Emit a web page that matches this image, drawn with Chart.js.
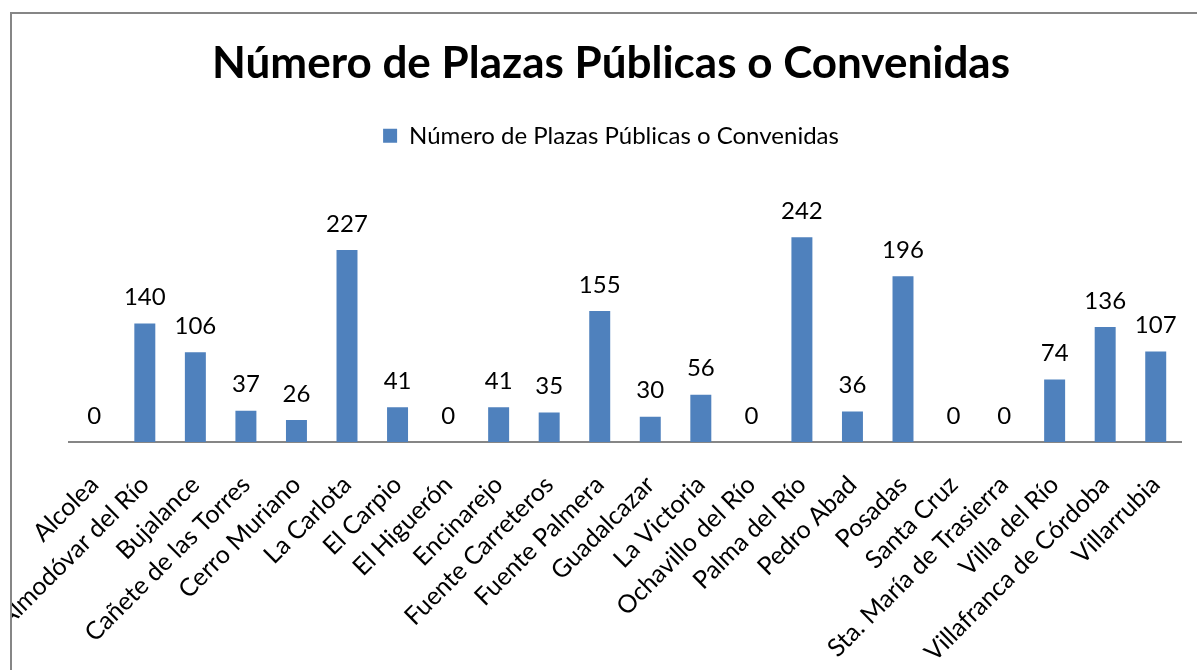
<!DOCTYPE html>
<html>
<head>
<meta charset="utf-8">
<script src="https://cdn.jsdelivr.net/npm/chart.js@4.4.1/dist/chart.umd.min.js"></script>
<style>
  html, body { margin: 0; padding: 0; background: #fff; overflow: hidden; }
  #frame {
    position: absolute; left: 10px; top: 12px; width: 1300px; height: 700px;
    border-left: 2px solid #868686; border-top: 2px solid #868686;
    overflow: hidden;
  }
  #frame canvas { position: absolute; left: -12px; top: -14px; }
</style>
</head>
<body>
<div id="frame"><canvas id="c" width="1222" height="670"></canvas></div>
<script>
// Número de plazas públicas o convenidas por municipio
// (the chart box runs past the right edge of the window, as in the original)

const TITLE = 'Número de Plazas Públicas o Convenidas';
const SERIES = 'Número de Plazas Públicas o Convenidas';

const municipios = [
  'Alcolea', 'Almodóvar del Río', 'Bujalance', 'Cañete de las Torres',
  'Cerro Muriano', 'La Carlota', 'El Carpio', 'El Higuerón', 'Encinarejo',
  'Fuente Carreteros', 'Fuente Palmera', 'Guadalcazar', 'La Victoria',
  'Ochavillo del Río', 'Palma del Río', 'Pedro Abad', 'Posadas', 'Santa Cruz',
  'Sta. María de Trasierra', 'Villa del Río', 'Villafranca de Córdoba', 'Villarrubia',
];
const plazas = [0, 140, 106, 37, 26, 227, 41, 0, 41, 35, 155, 30, 56, 0, 242, 36, 196, 0, 0, 74, 136, 107];

const FONT = 'Lato, "Open Sans", sans-serif';
const BLUE = '#4f81bd';

// value labels above each bar
const barLabels = {
  id: 'barLabels',
  afterDatasetsDraw(chart) {
    const { ctx } = chart;
    const meta = chart.getDatasetMeta(0);
    ctx.save();
    ctx.font = '24px ' + FONT;
    ctx.fillStyle = '#000';
    ctx.textAlign = 'center';
    ctx.textBaseline = 'middle';
    meta.data.forEach((bar, i) => {
      ctx.fillText(String(plazas[i]), bar.x, bar.y - 26);
    });
    ctx.restore();
  },
};

new Chart(document.getElementById('c'), {
  type: 'bar',
  data: {
    labels: municipios,
    datasets: [{
      label: SERIES, data: plazas, backgroundColor: BLUE, borderWidth: 0,
      barPercentage: 0.83, categoryPercentage: 0.5,
    }],
  },
  options: {
    animation: false, responsive: false, events: [],
    layout: { padding: 0 },
    scales: {
      x: {
        grid: { display: false, drawTicks: false },
        border: { display: true, color: '#868686', width: 2 },
        ticks: {
          color: '#000', font: { family: FONT, size: 25 },
          minRotation: 45, maxRotation: 45, autoSkip: false, padding: 28,
        },
        afterFit(s) { s.height = 228; s.paddingLeft = 69; s.paddingRight = 41; },
      },
      y: { display: false, min: 0, max: 336 },
    },
    plugins: {
      title: {
        display: true, text: TITLE, color: '#000',
        font: { family: FONT, size: 44, weight: 'bold', lineHeight: 1.2 },
        padding: { top: 37, bottom: 24 },
      },
      legend: {
        labels: {
          color: '#000', font: { family: FONT, size: 24 },
          boxWidth: 14, boxHeight: 14,
        },
      },
      tooltip: { enabled: false },
    },
  },
  plugins: [barLabels],
});
</script>
</body>
</html>
